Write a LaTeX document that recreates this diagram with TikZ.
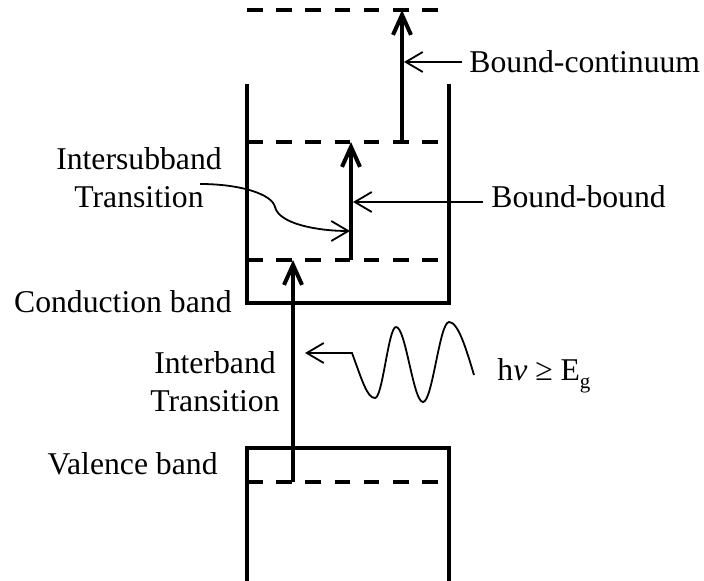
\documentclass[tikz,border=0pt]{standalone}
\usepackage{fontspec}
\setmainfont{Liberation Serif}
\usetikzlibrary{arrows.meta}

\begin{document}
\begin{tikzpicture}[x=0.5pt,y=-0.5pt,
  wall/.style={line width=2pt},
  level/.style={line width=2pt,dash pattern=on 7.8pt off 6.8pt},
  jump/.style={line width=2pt,-{Straight Barb[length=10pt,width=9pt]}},
  pointer/.style={line width=0.9pt,-{Straight Barb[length=8.5pt,width=10pt]}},
  lbl/.style={inner sep=0pt,font=\fontsize{15.85}{19}\selectfont}]
  \useasboundingbox (0,0) rectangle (704,581);
  \coordinate (cb-tl) at (247,84);  \coordinate (cb-bl) at (247,303);
  \coordinate (cb-br) at (449,303); \coordinate (cb-tr) at (449,84);
  \coordinate (vb-tl) at (247,448); \coordinate (vb-bl) at (247,582);
  \coordinate (vb-tr) at (449,448); \coordinate (vb-br) at (449,582);
  \draw[wall] (cb-tl) -- (cb-bl) -- (cb-br) -- (cb-tr);
  \draw[wall] (vb-bl) -- (vb-tl) -- (vb-tr) -- (vb-br);
  \foreach \y in {10,142,260,482}
    \draw[level] (247,\y) -- (440,\y);
  \coordinate (ib-s) at (293,482); \coordinate (ib-e) at (293,260);
  \coordinate (bb-s) at (351,260); \coordinate (bb-e) at (351,142);
  \coordinate (bc-s) at (402,142); \coordinate (bc-e) at (402,10);
  \draw[jump] (ib-s) -- (ib-e);
  \draw[jump] (bb-s) -- (bb-e);
  \draw[jump] (bc-s) -- (bc-e);
  \coordinate (bb-mid) at (353,202);
  \coordinate (bc-mid) at (404,62);
  \coordinate (ib-mid) at (305,353);
  \coordinate (isb-tip) at (350,231);
  \node[lbl,anchor=base west] (bc) at (469,73) {Bound-continuum};
  \node[lbl,anchor=base west] (bb) at (491,208) {Bound-bound};
  \node[lbl,anchor=base west] (hv) at (497,380) {h\textit{ν} ≥ E\raisebox{-4pt}{\fontsize{10.5}{12}\selectfont g}};
  \node[lbl,anchor=base east] (cb) at (232,313) {Conduction band};
  \node[lbl,anchor=base east] (vb) at (218,474) {Valence band};
  \node[lbl,align=center] (isb) at (139,178) {Intersubband\\Transition};
  \node[lbl,align=center] (ib) at (215,382) {Interband\\Transition};
  \draw[pointer] ([shift={(-7,-11)}]bc.base west) -- (bc-mid);
  \draw[pointer] ([shift={(-8,-6)}]bb.base west) -- (bb-mid);
  \draw[pointer] ([shift={(61,6)}]isb.center) .. controls (240,184) and (272,194) .. (275,207)
    .. controls (279,224) and (318,231) .. (isb-tip);
  \draw[pointer] ([shift={(-23,-5)}]hv.base west) sin (449,322) cos (436,362) sin (423,402)
    cos (409.5,364.5) sin (396,327) cos (385.5,362.5) sin (375,398)
    .. controls (367,398) and (362,380) .. (352,353) -- (ib-mid);
\end{tikzpicture}
\end{document}
